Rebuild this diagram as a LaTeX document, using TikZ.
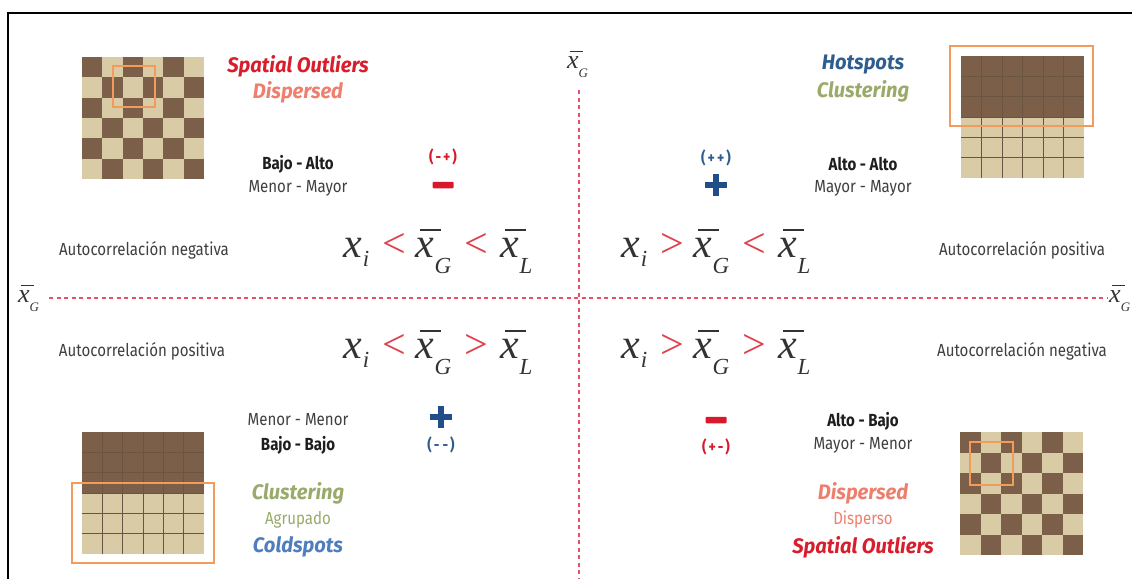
\documentclass[tikz,border=0pt]{standalone}
\usepackage{fontspec}
\setmainfont{Liberation Serif}
\newfontfamily\cf[FakeStretch=0.86]{Fira Sans}
\newfontfamily\cft[FakeStretch=0.96]{Fira Sans}
\definecolor{darkcell}{HTML}{7B5F48}
\definecolor{tancell}{HTML}{D9CBA5}
\definecolor{gridln}{HTML}{6A5442}
\definecolor{orng}{HTML}{F29B5C}
\definecolor{axisred}{HTML}{E8506A}
\definecolor{relred}{HTML}{E0404C}
\definecolor{outred}{HTML}{D81E2C}
\definecolor{salmon}{HTML}{EE7F6E}
\definecolor{hotblue}{HTML}{2F5E8E}
\definecolor{coldblue}{HTML}{4F7DBE}
\definecolor{olive}{HTML}{9AAA6A}
\definecolor{signblue}{HTML}{1F4E8A}
\definecolor{signred}{HTML}{D7192A}
\definecolor{txtgray}{HTML}{3F3F3F}
\definecolor{txtdark}{HTML}{1E1E1E}
\definecolor{frm}{HTML}{333333}
\newcommand\xbr{\leavevmode\rlap{\kern0.1em\raisebox{0.62em}{\rule{0.5em}{0.035em}}}\textit{x}}
\newcommand\subs[2]{\raisebox{-#1}{\fontsize{23}{23}\selectfont\textit{#2}}}
\newcommand\formula[2]{\textit{x}\kern1pt\subs{9pt}{i}\kern13pt\textcolor{relred}{#1}\kern10pt\xbr\kern0pt\subs{16pt}{G}\kern13pt\textcolor{relred}{#2}\kern13pt\xbr\kern0pt\subs{16pt}{L}}
\newcommand\xgsmall{\xbr\raisebox{-9pt}{\fontsize{13}{13}\selectfont\textit{G}}}
\begin{document}
\begin{tikzpicture}[x=1pt,y=-1pt,
  lbl/.style={font=\cf\fontsize{17.5}{17.5}\selectfont, text=txtgray, inner sep=0},
  lblb/.style={font=\cf\bfseries\fontsize{17.5}{17.5}\selectfont, text=txtdark, inner sep=0},
  ttl/.style={font=\cft\bfseries\itshape\fontsize{21}{21}\selectfont, inner sep=0},
  sml/.style={font=\cf\bfseries\fontsize{16}{16}\selectfont, inner sep=0},
  frml/.style={font=\fontsize{42}{42}\selectfont, text=frm, inner sep=0, anchor=base west},
  xg/.style={font=\fontsize{26}{26}\selectfont, text=frm, inner sep=0, anchor=base west},
  axis/.style={axisred, line width=1.3pt, dash pattern=on 4pt off 3.5pt},
  orbox/.style={orng, line width=2.2pt},
  plussign/.style={minimum size=22pt, inner sep=0, path picture={\draw[line width=6.5pt,signblue] (path picture bounding box.west) -- (path picture bounding box.east) (path picture bounding box.north) -- (path picture bounding box.south);}},
  minussign/.style={minimum width=21pt, minimum height=6.5pt, inner sep=0, fill=signred, rounded corners=1pt}
]
\useasboundingbox (0,0) rectangle (1132,579);
\fill[white] (0,0) rectangle (1132,579);
\draw[black, line width=1.2pt] (8,579) -- (8,13) -- (1132,13);

% axes
\coordinate (vtop) at (579,90);
\coordinate (vbot) at (579,579);
\coordinate (hl) at (49,298);
\coordinate (hr) at (1107,298);
\draw[axis] (vtop) -- (vbot);
\draw[axis] (hl) -- (hr);
\node[xg] (xgt) at (567,68) {\xgsmall};
\node[xg] (xgl) at (18,302) {\xgsmall};
\node[xg] (xgr) at (1109,302) {\xgsmall};

% top-left checkerboard
\fill[tancell] (82,57) rectangle (204,179);
\foreach \r/\o in {0/0,1/1,2/0,3/1,4/0,5/1}
  \foreach \c in {0,2,4}
    \fill[darkcell] ({82+(\c+\o)*20.33},{57+\r*20.33}) rectangle ++(20.33,20.33);
\draw[orbox] (113,66) rectangle (155,107);

% bottom-right checkerboard
\fill[tancell] (960,432) rectangle (1083,555);
\foreach \r/\o in {0/0,1/1,2/0,3/1,4/0,5/1}
  \foreach \c in {0,2,4}
    \fill[darkcell] ({960+(\c+\o)*20.5},{432+\r*20.5}) rectangle ++(20.5,20.5);
\draw[orbox] (970,442) rectangle (1013,485);

% top-right solid grid
\fill[darkcell] (961,56) rectangle (1084,117);
\fill[tancell] (961,117) rectangle (1084,178);
\foreach \i in {1,...,5} {
  \draw[gridln, line width=0.8pt] ({961+\i*20.5},56) -- ({961+\i*20.5},178);
  \draw[gridln, line width=0.8pt] (961,{56+\i*20.33}) -- (1084,{56+\i*20.33});
}
\draw[orbox] (950,46) rectangle (1093,126);

% bottom-left solid grid
\fill[darkcell] (82,432) rectangle (204,493);
\fill[tancell] (82,493) rectangle (204,554);
\foreach \i in {1,...,5} {
  \draw[gridln, line width=0.8pt] ({82+\i*20.33},432) -- ({82+\i*20.33},554);
  \draw[gridln, line width=0.8pt] (82,{432+\i*20.33}) -- (204,{432+\i*20.33});
}
\draw[orbox] (72,483) rectangle (214,563);

% top-left texts
\node[ttl, text=outred] (so1) at (298,66) {Spatial Outliers};
\node[ttl, text=salmon] (dis1) at (298,92) {Dispersed};
\node[lblb] (ba1) at (298,164) {Bajo - Alto};
\node[lbl] (mm1) at (298,188) {Menor - Mayor};
\node[sml, text=signred] (pm1) at (443,157) {(\kern2pt-\kern2pt+\kern2pt)};
\node[minussign] (minus1) at (443,185) {};

% top-right texts
\node[ttl, text=hotblue] (hot) at (863,65) {Hotspots};
\node[ttl, text=olive] (clu1) at (863,91) {Clustering};
\node[sml, text=hotblue] (pp) at (716,158) {(\kern2pt+\kern2pt+\kern2pt)};
\node[plussign] (plus1) at (716,185) {};
\node[lblb] (aa) at (863,164) {Alto - Alto};
\node[lbl] (MM) at (863,188) {Mayor - Mayor};

% middle
\node[lbl] (an1) at (144,250) {Autocorrelación negativa};
\node[frml] (f1) at (343,257) {\formula{<}{<}};
\node[frml] (f2) at (621,257) {\formula{>}{<}};
\node[lbl] (ap1) at (1022,250) {Autocorrelación positiva};
\node[lbl] (ap2) at (142,351) {Autocorrelación positiva};
\node[frml] (f3) at (343,358) {\formula{<}{>}};
\node[frml] (f4) at (621,358) {\formula{>}{>}};
\node[lbl] (an2) at (1022,351) {Autocorrelación negativa};

% bottom-left texts
\node[lbl] (mmn) at (298,420) {Menor - Menor};
\node[lblb] (bb) at (298,445) {Bajo - Bajo};
\node[plussign] (plus2) at (441,417) {};
\node[sml, text=hotblue] (mn) at (441,445) {(\kern2pt-\kern3pt-\kern2pt)};
\node[ttl, text=olive] (clu2) at (298,493) {Clustering};
\node[lbl, text=olive] (agr) at (298,520) {Agrupado};
\node[ttl, text=coldblue] (cold) at (298,547) {Coldspots};

% bottom-right texts
\node[minussign] (minus2) at (716,420) {};
\node[sml, text=signred] (pmn) at (716,447) {(\kern2pt+\kern2pt-\kern2pt)};
\node[lblb] (ab) at (863,421) {Alto - Bajo};
\node[lbl] (Mm) at (863,445) {Mayor - Menor};
\node[ttl, text=salmon] (dis2) at (863,493) {Dispersed};
\node[lbl, text=salmon] (disp) at (863,520) {Disperso};
\node[ttl, text=outred] (so2) at (863,547) {Spatial Outliers};
\end{tikzpicture}
\end{document}
